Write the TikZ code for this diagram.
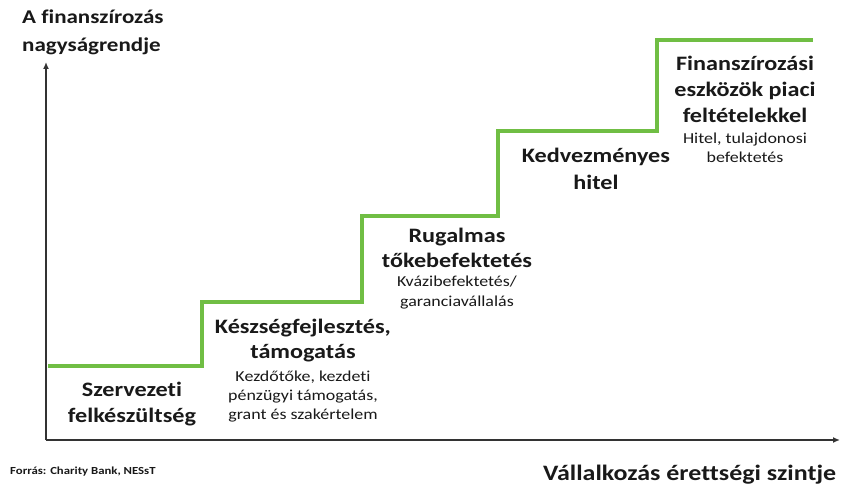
\documentclass[tikz,border=0pt]{standalone}
\usepackage{fontspec}
\setmainfont{Carlito}[FakeStretch=1.18, Ligatures={NoCommon}]
\usetikzlibrary{arrows.meta}
\definecolor{stairgreen}{RGB}{112,190,68}
\definecolor{txt}{RGB}{25,25,25}
\begin{document}
\begin{tikzpicture}[x=1pt,y=-1pt,
  title/.style={font=\bfseries\fontsize{20.5}{26}\selectfont, align=center, inner sep=0pt, text=txt},
  sub/.style={font=\fontsize{15.2}{19}\selectfont, align=center, inner sep=0pt, text=txt},
  axis/.style={line width=1.6pt, draw=black!80, -{Latex[length=7pt,width=6pt]}},
  stair/.style={line width=4pt, draw=stairgreen}]
\useasboundingbox[fill=white] (0,0) rectangle (845,486);
\coordinate (o) at (46,440);
\coordinate (ytop) at (46,62);
\coordinate (xend) at (840,440);
\draw[axis] (o) -- (ytop);
\draw[axis] (o) -- (xend);
\coordinate (s0) at (48,366);
\coordinate (s1) at (202,366);
\coordinate (s2) at (202,302);
\coordinate (s3) at (362,302);
\coordinate (s4) at (362,216);
\coordinate (s5) at (498,216);
\coordinate (s6) at (498,131);
\coordinate (s7) at (657,131);
\coordinate (s8) at (657,40);
\coordinate (s9) at (813,40);
\draw[stair] (s0) -- (s1) -- (s2) -- (s3) -- (s4) -- (s5) -- (s6) -- (s7) -- (s8) -- (s9);
\node[title, align=left, anchor=west, font=\bfseries\fontsize{19.5}{28}\selectfont] (ylab) at (22,32) {A finanszírozás\\nagyságrendje};
\node[title] (t0) at (132,404) {Szervezeti\\felkészültség};
\node[title, font=\bfseries\fontsize{20.5}{25}\selectfont] (t1) at (303,340.5) {Készségfejlesztés,\\támogatás};
\node[sub] (u1) at (303,397) {Kezdőtőke, kezdeti\\pénzügyi támogatás,\\grant és szakértelem};
\node[title, font=\bfseries\fontsize{20.5}{25}\selectfont] (t2) at (457,247.5) {Rugalmas\\tőkebefektetés};
\node[sub, font=\fontsize{15.2}{20}\selectfont] (u2) at (457,293) {Kvázibefektetés/\\garanciavállalás};
\node[title, font=\bfseries\fontsize{20.5}{27}\selectfont] (t3) at (596,168.5) {Kedvezményes\\hitel};
\node[title, font=\bfseries\fontsize{20.5}{26}\selectfont] (t4) at (745,89) {Finanszírozási\\eszközök piaci\\feltételekkel};
\node[sub] (u4) at (745,147.5) {Hitel, tulajdonosi\\befektetés};
\node[inner sep=0pt, anchor=base west, font=\bfseries\fontsize{10.8}{12}\selectfont, text=txt] (src) at (10,474) {Forrás: Charity Bank, NESsT};
\node[title, anchor=base west, font=\bfseries\fontsize{22}{26}\selectfont] (xlab) at (543,480) {Vállalkozás érettségi szintje};
\end{tikzpicture}
\end{document}
